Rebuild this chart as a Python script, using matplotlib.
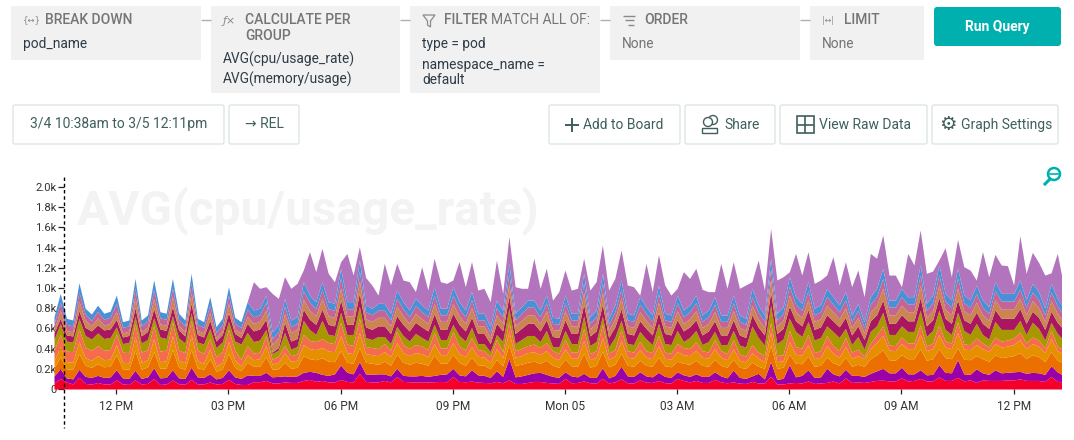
import numpy as np
import matplotlib
matplotlib.use("Agg")
import matplotlib.pyplot as plt
from matplotlib.patches import Rectangle, FancyBboxPatch, Circle, Polygon

plt.rcParams['font.family'] = ['Roboto', 'DejaVu Sans']

red_top = [60,105,70,50,115,55,48,65,50,50,
 90,50,45,90,50,55,105,45,50,90,
 52,48,95,50,50,70,50,55,95,55,
 45,45,72,72,85,60,60,70,65,65,
 85,95,75,85,70,70,95,75,70,155,
 75,70,70,85,70,122,75,72,70,72,
 70,72,75,72,125,75,72,78,68,65,
 62,75,62,90,55,55,65,75,75,65,
 60,55,105,62,65,80,62,58,105,60,
 70,100,62,60,90,68,65,85,62,60,
 105,85,70,85,65,65,95,70,62,70,
 58,55,75,60,60,125,50,50,60,65,
 60,80,55,60,65,80,60,110,65,70,
 65,75,85,88,80,80,110,80,85,105,
 80,80,120,85,85,115,80,90,65,90,
 85,85,85,90,90,100,85,85,85,75,
 125,75,70]
purple_top = [130,200,110,100,195,125,115,135,115,120,
 190,110,105,185,105,120,210,110,115,190,
 110,105,215,120,115,150,100,115,190,120,
 105,140,135,135,165,120,125,130,125,130,
 165,175,165,145,135,150,237,165,150,270,
 150,145,150,150,130,205,135,130,130,135,
 125,135,145,150,205,140,130,190,140,135,
 115,180,125,303,120,130,145,160,165,145,
 125,115,170,130,120,155,115,115,210,110,
 135,225,130,125,170,130,120,165,125,115,
 170,140,125,150,125,125,170,130,110,188,
 115,105,130,155,100,270,95,105,240,120,
 135,190,115,120,205,150,130,195,135,135,
 125,155,180,205,160,160,215,150,150,190,
 140,145,240,165,160,290,150,145,200,160,
 145,190,160,165,170,175,155,165,160,145,
 230,170,135]
dkorange_top = [210,320,200,195,350,235,215,250,220,225,
 340,200,195,380,195,220,370,205,210,390,
 215,195,390,210,195,300,175,200,350,215,
 180,265,225,225,320,195,200,265,205,215,
 330,300,290,310,275,270,380,265,255,410,
 265,255,245,275,235,345,265,245,265,255,
 235,335,255,255,345,265,235,315,240,235,
 200,295,230,440,235,245,265,275,255,285,
 235,215,295,230,225,355,215,235,375,220,
 245,355,235,225,285,235,225,315,230,220,
 275,255,245,285,235,225,295,235,215,295,
 215,205,265,225,205,430,205,215,345,255,
 250,325,225,235,315,260,235,315,225,245,
 225,300,340,390,290,285,340,300,300,400,
 285,300,400,310,300,410,295,290,330,300,
 275,340,310,320,330,360,300,340,320,270,
 370,285,260]
orange_top = [280,420,270,265,470,310,285,330,290,295,
 440,265,260,520,265,290,500,270,280,530,
 285,260,540,280,255,400,225,265,470,290,
 230,340,290,300,430,245,265,360,275,285,
 440,400,390,410,375,370,530,360,350,560,
 350,340,330,370,320,460,360,330,360,350,
 320,450,340,340,460,355,320,420,325,315,
 265,400,310,570,315,330,360,370,340,380,
 315,290,400,305,305,480,290,315,510,295,
 325,480,315,305,390,315,300,430,305,295,
 370,340,330,385,315,305,400,315,290,400,
 285,270,360,305,275,560,270,280,470,345,
 335,440,300,315,430,355,315,420,305,330,
 300,400,460,530,385,380,450,400,400,540,
 380,400,540,415,400,560,395,390,440,400,
 370,450,415,425,440,490,400,450,425,360,
 500,380,345]
coral_top = [385,540,375,370,600,410,385,430,385,390,
 545,365,360,650,365,390,630,375,385,665,
 385,360,680,385,350,500,320,370,590,385,
 290,430,355,365,530,295,325,430,330,345,
 540,480,470,500,460,450,660,445,430,700,
 420,410,400,450,385,570,440,400,440,425,
 390,560,405,405,570,425,385,510,390,380,
 320,490,370,670,380,400,430,445,410,460,
 380,350,490,365,365,600,350,380,640,355,
 390,590,380,365,470,380,360,530,365,355,
 450,410,400,470,380,365,490,380,350,490,
 345,325,440,365,330,660,330,340,580,420,
 405,540,360,380,530,430,380,510,365,395,
 325,455,535,625,435,430,515,455,455,635,
 425,455,635,475,455,665,445,440,505,455,
 415,515,475,485,505,565,455,515,485,405,
 585,425,385]
olive_top = [490,650,475,465,700,530,495,555,500,510,
 615,450,460,720,455,490,705,515,500,725,
 505,455,755,465,445,600,410,465,670,475,
 445,560,470,485,590,350,385,560,395,420,
 680,590,540,680,540,530,760,540,540,820,
 510,490,520,520,450,620,530,475,550,510,
 475,640,490,490,640,530,475,610,450,450,
 370,540,470,800,450,490,530,530,470,580,
 420,415,580,450,450,720,430,470,720,415,
 510,680,450,440,570,495,440,650,450,440,
 580,470,510,580,440,470,570,440,440,580,
 435,415,625,510,435,830,450,495,700,570,
 520,670,485,510,625,570,510,600,440,520,
 395,570,625,760,540,540,625,570,570,780,
 520,580,780,590,540,760,580,540,650,540,
 495,670,590,590,590,680,540,660,600,485,
 660,550,485]
maroon_top = [555,700,535,525,775,610,575,635,585,595,
 690,515,530,805,525,570,795,595,580,815,
 585,525,850,540,515,680,475,540,755,550,
 510,650,575,595,690,365,410,660,475,500,
 790,690,640,790,640,625,880,640,640,950,
 615,590,625,625,550,725,640,575,660,615,
 575,745,590,590,750,640,575,710,550,550,
 450,650,575,920,550,600,650,650,575,685,
 520,510,685,550,550,840,525,575,840,510,
 615,795,550,535,675,600,535,760,550,535,
 685,575,615,685,535,575,675,535,535,685,
 535,510,735,615,535,960,550,600,820,675,
 625,785,590,615,735,675,615,710,535,625,
 490,675,735,880,650,650,735,675,675,905,
 625,685,905,700,650,880,685,650,760,650,
 600,785,700,700,700,795,650,770,710,590,
 770,660,590]
tan_top = [590,780,580,565,870,680,625,705,630,650,
 770,555,570,910,565,615,895,645,630,915,
 630,565,955,580,555,760,505,580,850,590,
 555,720,650,670,780,440,510,745,560,590,
 890,780,725,900,725,710,1000,725,725,1070,
 695,670,710,710,625,820,725,650,750,695,
 650,845,670,670,845,725,650,805,625,625,
 510,735,650,1040,625,680,735,735,650,775,
 590,580,775,625,625,955,595,650,955,580,
 695,900,625,610,765,680,610,860,625,610,
 775,650,695,775,610,650,765,610,610,775,
 610,580,830,695,610,1085,625,680,930,765,
 710,885,670,695,830,765,695,805,610,710,
 555,765,830,1000,735,735,830,765,765,1030,
 710,775,1030,790,735,1000,775,735,860,735,
 680,885,790,790,790,900,735,875,805,670,
 875,750,670]
pink_top = [650,860,640,625,960,740,680,770,690,710,
 850,610,625,1000,625,675,985,705,690,1000,
 690,625,1050,640,610,835,560,640,930,650,
 610,790,715,735,860,500,570,820,620,650,
 975,860,795,985,795,780,1100,795,795,1170,
 765,735,780,780,685,900,795,715,825,765,
 715,930,735,735,930,795,715,885,685,685,
 560,805,715,1140,685,750,810,810,715,855,
 650,640,855,685,685,1050,655,715,1050,640,
 765,990,685,670,840,750,670,945,685,670,
 855,715,765,855,670,715,840,670,670,855,
 670,640,915,765,670,1190,685,750,1020,840,
 780,975,735,765,915,840,765,885,670,780,
 610,840,915,1095,810,810,915,840,840,1130,
 780,855,1130,870,810,1100,855,810,945,810,
 750,975,870,870,870,990,810,960,885,735,
 960,825,735]
blue_top = [716,947,700,683,1053,800,742,830,750,770,
 930,667,683,1095,683,733,1080,765,750,1095,
 750,683,1145,700,667,915,617,700,1013,710,
 667,865,782,800,930,567,634,897,683,716,
 1062,930,865,1062,865,848,1195,865,865,1277,
 832,800,848,848,750,980,865,782,898,832,
 782,1013,800,800,1013,865,782,964,750,750,
 617,881,782,1244,750,815,881,881,782,930,
 710,700,930,750,750,1145,716,782,1145,700,
 832,1079,750,733,914,815,733,1030,750,733,
 930,782,832,930,733,782,914,733,733,930,
 733,700,997,832,733,1294,750,815,1112,914,
 848,1063,800,832,997,914,832,964,733,848,
 667,914,997,1195,881,881,997,914,914,1228,
 848,931,1228,947,881,1195,931,881,1030,881,
 815,1063,947,947,947,1079,881,1046,964,800,
 1046,898,800]
lilac_top = [716,947,700,683,1053,800,742,830,750,770,
 930,667,683,1095,683,733,1080,765,750,1095,
 750,683,1145,700,667,915,617,700,1013,710,
 667,865,1062,997,1013,947,897,1112,997,1046,
 1178,1360,1162,1393,1145,1062,1260,1343,1129,1409,
 1105,1030,930,1244,1030,1244,1079,1063,964,1211,
 980,1294,1063,1046,1079,1261,1013,1261,980,997,
 865,1277,947,1508,1013,997,997,1294,997,1195,
 880,963,1178,980,997,1294,980,1063,1426,980,
 1095,1376,1030,1013,930,1244,964,1327,1030,930,
 997,1162,1095,1195,987,964,964,1244,997,1260,
 997,1030,1063,1277,980,1590,1079,1112,1160,1343,
 1128,1360,1046,1079,1128,1310,1030,1260,1013,1178,
 914,1343,1294,1525,1128,1128,1013,1343,1228,1574,
 1145,1168,1277,1399,1112,1482,1211,1178,1079,1360,
 1112,1333,1228,1221,1030,1518,1145,1353,1254,1128,
 1150,1343,1030]

layer_tops = [red_top, purple_top, dkorange_top, orange_top, coral_top, olive_top,
              maroon_top, tan_top, pink_top, blue_top, lilac_top]
layer_colors = ['#F5002A', '#9A00A8', '#EB7000', '#E69000', '#F56B4C', '#A99700',
                '#A8175F', '#CB8550', '#C56595', '#4A90D6', '#B274BC']
y_ticks = [0, 200, 400, 600, 800, 1000, 1200, 1400, 1600, 1800, 2000]
y_labels = ['0', '0.2k', '0.4k', '0.6k', '0.8k', '1.0k', '1.2k', '1.4k', '1.6k', '1.8k', '2.0k']
x_labels = ['12 PM', '03 PM', '06 PM', '09 PM', 'Mon 05', '03 AM', '06 AM', '09 AM', '12 PM']
sample_minutes = 10
first_tick_minute = 100
tick_step_minute = 180
end_minute = 1616

W, H = 1074, 440
fig = plt.figure(figsize=(W / 100, H / 100), dpi=100, facecolor='white')

bg = fig.add_axes([0, 0, 1, 1], zorder=0)
bg.set_xlim(0, W); bg.set_ylim(H, 0); bg.axis('off')

GRAY = '#F1F1F1'; HEAD = '#757575'; BODY = '#2E3B46'; BTN = '#3F5F5C'; EDGE = '#DCE6E4'; TEAL = '#00B0AE'

def box(x0, x1, y0, y1):
    bg.add_patch(Rectangle((x0, y0), x1 - x0, y1 - y0, fc=GRAY, ec='none'))

def label(x, y, s, size=13.8, color=BODY, weight='normal', ha='left', **kw):
    return bg.text(x, y, s, fontsize=size * 0.72, color=color, fontweight=weight,
                   ha=ha, va='center', **kw)

def seg(xs, ys, color='#AFAFAF', lw=1.0):
    bg.plot(xs, ys, color=color, lw=lw, solid_capstyle='butt')

box(11, 201, 6, 60); box(211, 400, 6, 93); box(410, 600, 6, 93); box(610, 800, 6, 60); box(810, 924, 6, 60)
for a, b in [(201, 211), (400, 410), (600, 610), (800, 810)]:
    seg([a, b], [20.5, 20.5])

label(23, 20, '{↔}', 8.5, '#8A8A8A', family=['DejaVu Sans'])
label(45, 20, 'BREAK DOWN', 13.9, HEAD, 'medium')
label(23, 44, 'pod_name')
label(223, 20.5, 'ƒ×', 11, '#8A8A8A', family=['DejaVu Sans'], style='italic')
label(245, 20.5, 'CALCULATE PER', 13.9, HEAD, 'medium')
label(245, 36.5, 'GROUP', 13.9, HEAD, 'medium')
label(223, 59.5, 'AVG(cpu/usage_rate)')
label(223, 79.5, 'AVG(memory/usage)')
bg.add_patch(Polygon([(423, 15), (435, 15), (430.5, 21), (430.5, 27), (427.5, 25), (427.5, 21)],
                     closed=True, fc='none', ec='#8A8A8A', lw=0.9))
label(444, 20.5, 'FILTER', 13.9, HEAD, 'medium')
label(491, 20.5, 'MATCH ALL OF:', 13.9, HEAD)
label(422, 44, 'type = pod')
label(422, 64.5, 'namespace_name =')
label(422, 79.5, 'default')
for yy, x0, x1 in [(16, 623, 635), (20.5, 625, 634), (25, 628, 634)]:
    seg([x0, x1], [yy, yy], '#8A8A8A')
label(644, 20.5, 'ORDER', 13.9, HEAD, 'medium')
label(622, 44.5, 'None', 13.8, HEAD)
label(822, 20.5, '|↔|', 8, '#8A8A8A', family=['DejaVu Sans'])
label(844, 20.5, 'LIMIT', 13.9, HEAD, 'medium')
label(822, 44.5, 'None', 13.8, HEAD)

bg.add_patch(FancyBboxPatch((936, 9), 123, 35, boxstyle='round,pad=2,rounding_size=3', fc=TEAL, ec='none'))
label(997.5, 26.5, 'Run Query', 13.9, 'white', 'bold', ha='center')

for x0, x1 in [(13, 224), (229, 299), (549, 680), (685, 775), (780, 927), (932, 1058)]:
    bg.add_patch(FancyBboxPatch((x0 + 2, 107), x1 - x0 - 4, 35, boxstyle='round,pad=2,rounding_size=2',
                                fc='white', ec=EDGE, lw=1.0))
label(118.5, 124, '3/4 10:38am to 3/5 12:11pm', 13.9, BTN, ha='center')
label(264, 124, '→ REL', 13.9, BTN, ha='center')
seg([565, 579], [125, 125], BTN, 1.4); seg([572, 572], [118, 132], BTN, 1.4)
label(583, 125, 'Add to Board', 13.9, BTN)
bg.add_patch(Circle((713, 120), 4.5, fc='white', ec=BTN, lw=1.0))
bg.add_patch(Circle((708, 122), 4.5, fc='white', ec=BTN, lw=1.0))
bg.add_patch(Rectangle((702, 128), 15, 5, fc='white', ec=BTN, lw=1.0))
label(724, 125, 'Share', 13.9, BTN)
bg.add_patch(Rectangle((796.5, 116.5), 17, 17, fc='none', ec=BTN, lw=1.2))
seg([805, 805], [116.5, 133.5], BTN, 1.2); seg([796.5, 813.5], [125, 125], BTN, 1.2)
label(819, 125, 'View Raw Data', 13.9, BTN)
bg.text(947.5, 124.5, '⚙', fontsize=14, color=BTN, ha='center', va='center', family=['DejaVu Sans'])
label(961, 125, 'Graph Settings', 13.9, BTN)

bg.text(77, 211, 'AVG(cpu/usage_rate)', fontsize=34.4, fontweight='bold', color='#F3F3F3', ha='left', va='center')

ax = fig.add_axes([54 / W, (H - 389) / H, (1061 - 54) / W, 202 / H], zorder=1)
ax.patch.set_alpha(0)
minutes = np.arange(len(red_top)) * sample_minutes
lower = np.zeros(len(minutes))
for top, color in zip(layer_tops, layer_colors):
    top = np.asarray(top, dtype=float)
    ax.fill_between(minutes, lower, top, color=color, lw=0, where=top >= lower, interpolate=True)
    lower = np.maximum(lower, top)

ax.set_xlim(0, end_minute)
ax.set_ylim(0, 2000)
ax.set_axisbelow(True)
for s in ('top', 'right', 'bottom', 'left'):
    ax.spines[s].set_visible(False)
ax.spines['left'].set_position(('data', 16))
ax.set_yticks(y_ticks); ax.set_yticklabels(y_labels)
ax.set_xticks([first_tick_minute + k * tick_step_minute for k in range(len(x_labels))])
ax.set_xticklabels(x_labels)
ax.tick_params(axis='y', length=4.2, width=0.9, pad=1.2, labelsize=8.1, color='#222222', labelcolor='#333333')
ax.tick_params(axis='x', length=3.5, width=0.9, pad=4.5, labelsize=8.6, color='#222222', labelcolor='#333333')

fg = fig.add_axes([0, 0, 1, 1], zorder=3)
fg.set_xlim(0, W); fg.set_ylim(H, 0); fg.axis('off')
fg.plot([64, 64], [177, 428], color='black', lw=1.0, dashes=(2.5, 2))
fg.add_patch(Circle((1054, 174), 6, fc='none', ec=TEAL, lw=1.8))
fg.plot([1050, 1058], [174, 174], color=TEAL, lw=1.2)
fg.plot([1050, 1045], [179, 184], color=TEAL, lw=2.2)

fig.savefig('out.png', dpi=100)
